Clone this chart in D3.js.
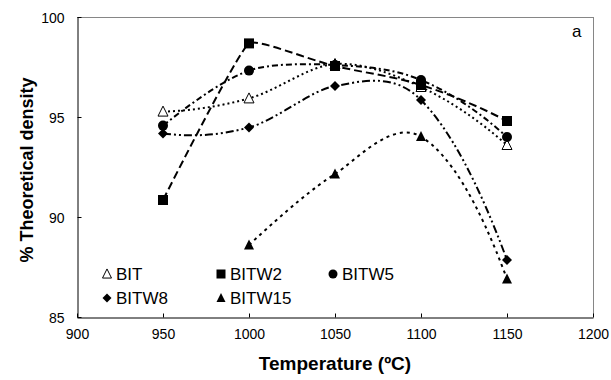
<!DOCTYPE html>
<html><head><meta charset="utf-8">
<script src="https://cdn.jsdelivr.net/npm/d3@7"></script>
<style>body{margin:0;background:#fff}svg{display:block}text{font-family:Arial,"Liberation Sans",sans-serif}</style>
</head><body>
<svg id="c" width="611" height="380"></svg>
<script>
// ---- data ----
const temps = [950, 1000, 1050, 1100, 1150];
const seriesNames = ["BIT", "BITW2", "BITW5", "BITW8", "BITW15"];
const bit    = [95.27, 95.93, 97.65, 96.5, 93.6];
const bitw2  = [90.85, 98.68, 97.55, 96.6, 94.8];
const bitw5  = [94.57, 97.32, 97.6, 96.85, 94.0];
const bitw8  = [94.18, 94.48, 96.55, 95.85, 87.85];
const bitw15 = [null, 88.6, 92.15, 94.02, 86.9];
const xTicks = [900, 950, 1000, 1050, 1100, 1150, 1200];
const yTicks = [85, 90, 95, 100];
const xTitle = "Temperature (ºC)";
const yTitle = "% Theoretical density";
const panelLabel = "a";

const svg = d3.select("#c");
const L = 77, R = 593, T = 17, B = 317;
const x = d3.scaleLinear().domain([900, 1200]).range([L, R]);
const y = d3.scaleLinear().domain([85, 100]).range([B, T]);

// frame (top/right grey)
svg.append("line").attr("x1", L).attr("x2", R).attr("y1", T + 0.5).attr("y2", T + 0.5).attr("stroke", "#868686");
svg.append("line").attr("x1", R + 0.5).attr("x2", R + 0.5).attr("y1", T).attr("y2", B).attr("stroke", "#868686");

// axes
const xAxis = d3.axisBottom(x).tickValues(xTicks).tickFormat(d3.format("d")).tickSizeInner(-4).tickSizeOuter(0).tickPadding(12);
const gx = svg.append("g").attr("transform", `translate(0,${B + 0.5})`).call(xAxis);
const yAxis = d3.axisLeft(y).tickValues(yTicks).tickFormat(d3.format("d")).tickSizeInner(-4).tickSizeOuter(0).tickPadding(13);
const gy = svg.append("g").attr("transform", `translate(${L + 0.5},0)`).call(yAxis);
[gx, gy].forEach(g => {
  g.select(".domain").attr("stroke", "#000");
  g.selectAll(".tick line").attr("stroke", "#000");
  g.selectAll("text").attr("font-size", 14).attr("fill", "#000").attr("font-family", "Arial, 'Liberation Sans', sans-serif");
});
gx.selectAll("text").attr("dy", "0.71em");
gy.selectAll("text").attr("dy", "0.36em");

// titles
svg.append("text").attr("x", 335).attr("y", 370).attr("text-anchor", "middle")
  .attr("font-size", 19).attr("font-weight", "bold").text(xTitle);
svg.append("text").attr("transform", "translate(33,170) rotate(-90)").attr("text-anchor", "middle")
  .attr("font-size", 18).attr("font-weight", "bold").text(yTitle);
svg.append("text").attr("x", 572).attr("y", 37).attr("font-size", 17).text(panelLabel);

// smoothing (Excel-like bezier)
function smoothPath(pts) {
  const n = pts.length, p = d3.path();
  p.moveTo(pts[0][0], pts[0][1]);
  if (n < 3) { for (let i = 1; i < n; i++) p.lineTo(pts[i][0], pts[i][1]); return p.toString(); }
  const dist = (a, b) => Math.hypot(b[0] - a[0], b[1] - a[1]);
  const arm = [];
  for (let i = 1; i < n - 1; i++) {
    const d0 = dist(pts[i - 1], pts[i]), d1 = dist(pts[i], pts[i + 1]);
    const k = Math.min(1, Math.pow(d1 / d0, 2));
    arm[i] = [(pts[i + 1][0] - pts[i - 1][0]) / 6 * k, (pts[i + 1][1] - pts[i - 1][1]) / 6 * k];
  }
  const c0 = [pts[1][0] - pts[0][0], pts[1][1] - pts[0][1]];
  const a0 = [2 * c0[0] / 3 - arm[1][0], 2 * c0[1] / 3 - arm[1][1]];
  const cn = [pts[n - 1][0] - pts[n - 2][0], pts[n - 1][1] - pts[n - 2][1]];
  const an = [2 * cn[0] / 3 - arm[n - 2][0], 2 * cn[1] / 3 - arm[n - 2][1]];
  const fw = i => i === 0 ? a0 : arm[i];
  const bk = i => i === n - 1 ? an : arm[i];
  for (let i = 0; i < n - 1; i++) {
    const f = fw(i), b = bk(i + 1);
    p.bezierCurveTo(pts[i][0] + f[0], pts[i][1] + f[1],
      pts[i + 1][0] - b[0], pts[i + 1][1] - b[1],
      pts[i + 1][0], pts[i + 1][1]);
  }
  return p.toString();
}

const allValues = [bit, bitw2, bitw5, bitw8, bitw15];
const dashes = ["2,3", "8,4", "6,3,2,3", "8,3,2,3,2,3", "3,4"];
const shapes = ["triOpen", "square", "circle", "diamond", "tri"];

function marker(g, shape, cx, cy, s) {
  if (shape === "square") g.append("rect").attr("x", cx - s / 2).attr("y", cy - s / 2).attr("width", s).attr("height", s).attr("fill", "#000");
  else if (shape === "circle") g.append("circle").attr("cx", cx).attr("cy", cy).attr("r", s / 2).attr("fill", "#000");
  else if (shape === "diamond") g.append("path").attr("d", `M${cx},${cy - s / 2}L${cx + s / 2},${cy}L${cx},${cy + s / 2}L${cx - s / 2},${cy}Z`).attr("fill", "#000");
  else {
    const h = s * 0.9;
    const d = `M${cx},${cy - h / 2 - 1}L${cx + s / 2},${cy + h / 2}L${cx - s / 2},${cy + h / 2}Z`;
    if (shape === "tri") g.append("path").attr("d", d).attr("fill", "#000");
    else g.append("path").attr("d", d).attr("fill", "#fff").attr("stroke", "#000").attr("stroke-width", 1);
  }
}

const plot = svg.append("g");
allValues.forEach((vals, si) => {
  const pts = temps.map((t, i) => vals[i] == null ? null : [x(t), y(vals[i])]).filter(d => d);
  plot.append("path").attr("d", smoothPath(pts)).attr("fill", "none").attr("stroke", "#000")
    .attr("stroke-width", 2).attr("stroke-dasharray", dashes[si]);
});
allValues.forEach((vals, si) => {
  const g = plot.append("g");
  temps.forEach((t, i) => { if (vals[i] != null) marker(g, shapes[si], x(t), y(vals[i]), 10); });
});

// legend
const legPos = [[107, 274], [221, 274], [333, 274], [107, 298], [221, 298]];
seriesNames.forEach((nm, i) => {
  const g = svg.append("g");
  marker(g, shapes[i], legPos[i][0], legPos[i][1], 9);
  g.append("text").attr("x", legPos[i][0] + 9).attr("y", legPos[i][1] + 6).attr("font-size", 17).text(nm);
});
</script>
</body></html>
